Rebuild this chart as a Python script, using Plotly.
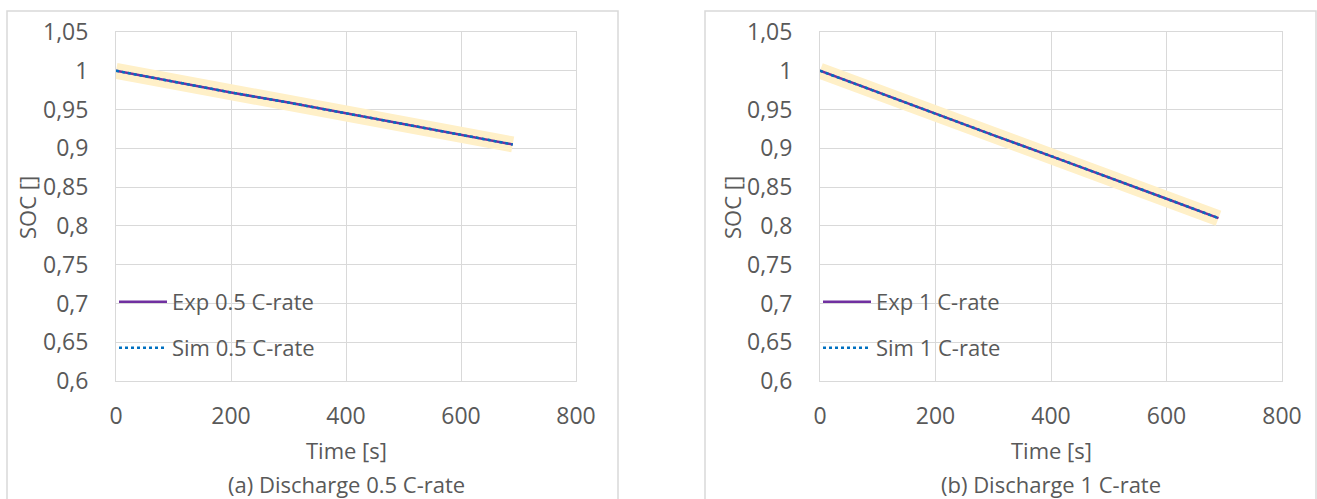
import plotly.graph_objects as go

# Time samples [s]
time_s = [0, 100, 200, 300, 400, 500, 600, 690]

# Discharge at 0.5 C-rate
exp_05 = [1.000, 0.986, 0.972, 0.959, 0.945, 0.931, 0.917, 0.905]
sim_05 = [1.000, 0.986, 0.972, 0.959, 0.945, 0.931, 0.917, 0.905]

# Discharge at 1 C-rate
exp_1 = [1.000, 0.972, 0.945, 0.917, 0.890, 0.862, 0.835, 0.810]
sim_1 = [1.000, 0.972, 0.945, 0.917, 0.890, 0.862, 0.835, 0.810]

y_ticks = [0.6, 0.65, 0.7, 0.75, 0.8, 0.85, 0.9, 0.95, 1.0, 1.05]
y_tick_labels = ["0,6", "0,65", "0,7", "0,75", "0,8", "0,85", "0,9", "0,95", "1", "1,05"]
x_ticks = [0, 200, 400, 600, 800]
x_tick_labels = ["0", "200", "400", "600", "800"]

FONT = "Open Sans"
TXT = "#595959"
GRID = "#D9D9D9"
BAND = "#FFF0C8"
EXP_C = "#7030A0"
SIM_C = "#0070C0"

W, H = 1317, 499


def px(x):
    return x / W


def py(y):
    return 1 - y / H


fig = go.Figure()

panels = [
    dict(xa="x", ya="y", exp=exp_05, sim=sim_05, rate="0.5", leg=("legend", "legend2"),
         dom=(116, 576), box=(7, 618), cap="(a) Discharge 0.5 C-rate", ytitle_x=27),
    dict(xa="x2", ya="y2", exp=exp_1, sim=sim_1, rate="1", leg=("legend3", "legend4"),
         dom=(820, 1282), box=(705, 1316), cap="(b) Discharge 1 C-rate", ytitle_x=732),
]

for p in panels:
    # tolerance band around the measured curve
    fig.add_trace(go.Scatter(x=time_s, y=p["exp"], mode="lines", xaxis=p["xa"], yaxis=p["ya"],
                             line=dict(color=BAND, width=16), showlegend=False, hoverinfo="skip"))
    fig.add_trace(go.Scatter(x=time_s, y=p["exp"], mode="lines", xaxis=p["xa"], yaxis=p["ya"],
                             name=f"Exp {p['rate']} C-rate", legend=p["leg"][0],
                             line=dict(color=EXP_C, width=2.5)))
    fig.add_trace(go.Scatter(x=time_s, y=p["sim"], mode="lines", xaxis=p["xa"], yaxis=p["ya"],
                             name=f"Sim {p['rate']} C-rate", legend=p["leg"][1],
                             line=dict(color=SIM_C, width=2.5, dash="dot")))

axis_common = dict(showgrid=True, gridcolor=GRID, gridwidth=1, showline=True, mirror=True,
                   linecolor=GRID, linewidth=1, zeroline=False, ticks="", automargin=False,
                   tickfont=dict(family=FONT, size=23, color=TXT))

layout = dict(
    template="none",
    width=W, height=H, margin=dict(l=0, r=0, t=0, b=0, pad=0, autoexpand=False),
    paper_bgcolor="white", plot_bgcolor="white",
    font=dict(family=FONT, color=TXT),
)

shapes = []
annotations = []
for i, p in enumerate(panels):
    sfx = "" if i == 0 else "2"
    layout["xaxis" + sfx] = dict(axis_common, domain=[px(p["dom"][0]), px(p["dom"][1])],
                                 range=[0, 800], tickvals=x_ticks, ticktext=x_tick_labels,
                                 anchor="y" + sfx, ticklabelstandoff=14)
    layout["yaxis" + sfx] = dict(axis_common, domain=[py(381), py(32)], range=[0.6, 1.05],
                                 tickvals=y_ticks, ticktext=y_tick_labels,
                                 anchor="x" + sfx, ticklabelstandoff=22)
    shapes.append(dict(type="rect", xref="paper", yref="paper", x0=px(p["box"][0]), x1=px(p["box"][1]),
                       y0=-0.2, y1=py(11), line=dict(color=GRID, width=1.5), layer="below"))
    xc = (p["dom"][0] + p["dom"][1]) / 2
    annotations.append(dict(text="Time [s]", xref="paper", yref="paper", x=px(xc), y=py(450),
                            xanchor="center", yanchor="middle", showarrow=False,
                            font=dict(family=FONT, size=22, color=TXT)))
    annotations.append(dict(text=p["cap"], xref="paper", yref="paper", x=px(xc), y=py(484),
                            xanchor="center", yanchor="middle", showarrow=False,
                            font=dict(family=FONT, size=22, color=TXT)))
    annotations.append(dict(text="SOC []", xref="paper", yref="paper", x=px(p["ytitle_x"]), y=py(208),
                            xanchor="center", yanchor="middle", showarrow=False, textangle=-90,
                            font=dict(family=FONT, size=22, color=TXT)))
    for j, ypos in enumerate((302, 348)):
        layout[p["leg"][j]] = dict(x=px(p["dom"][0] - 2), y=py(ypos), xanchor="left", yanchor="middle",
                                   bgcolor="rgba(0,0,0,0)", borderwidth=0, itemwidth=48,
                                   font=dict(family=FONT, size=22, color=TXT))

layout["shapes"] = shapes
layout["annotations"] = annotations
fig.update_layout(**layout)

fig.write_html("out.html",
               post_script="document.body.style.margin='0';document.body.style.overflow='hidden';")
